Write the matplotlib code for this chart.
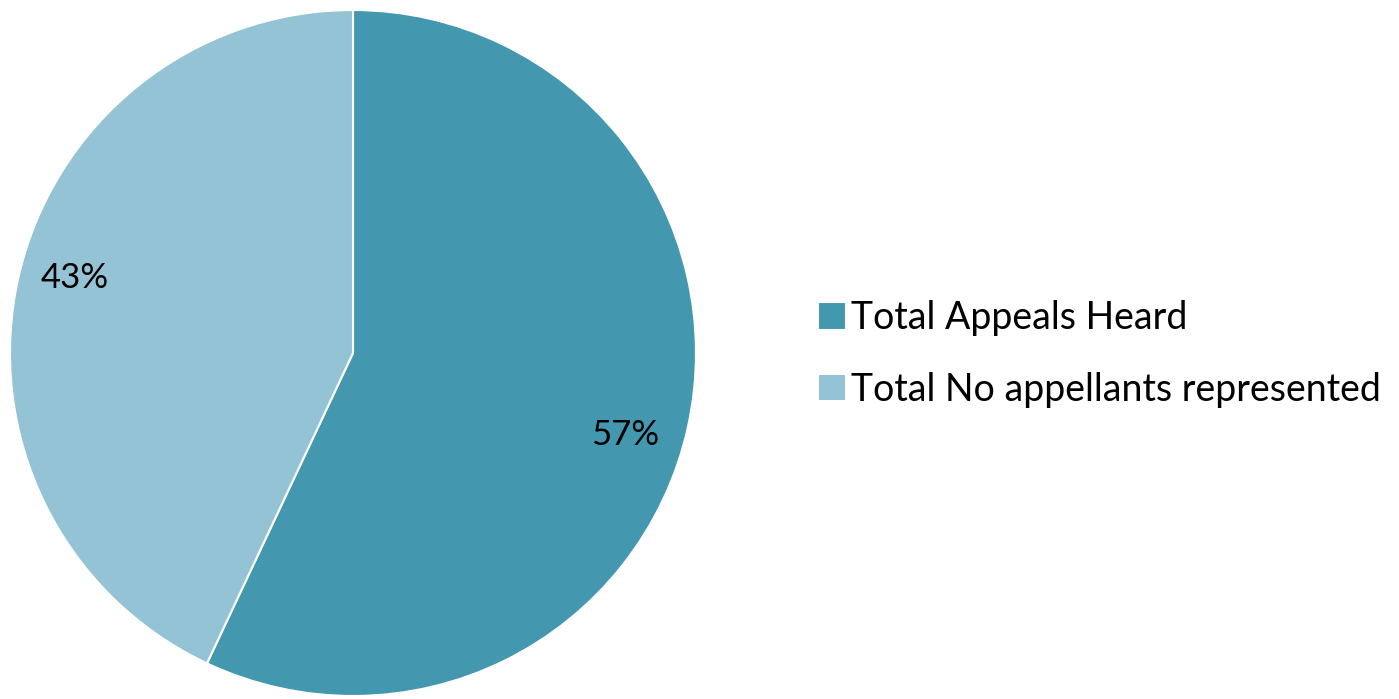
import matplotlib
matplotlib.use("Agg")
import matplotlib.pyplot as plt

labels = ["Total Appeals Heard", "Total No appellants represented"]
values = [57, 43]
colors = ["#4398B0", "#93C3D5"]
# label anchor positions (fraction of radius), as placed in the original
label_pos = [(0.793, -0.239), (-0.810, 0.219)]

plt.rcParams['font.family'] = ['Lato', 'DejaVu Sans']

fig = plt.figure(figsize=(13.99, 6.99), dpi=100)
ax = fig.add_axes([10/1399, 3/699, 686/1399, 686/699])
wedges, texts, autotexts = ax.pie(values, colors=colors, startangle=90, counterclock=False,
                                  autopct='%d%%', pctdistance=0.82, radius=1.0,
                                  wedgeprops=dict(edgecolor='white', linewidth=1.5),
                                  textprops=dict(fontsize=25, color='#000000'))
for at, pos in zip(autotexts, label_pos):
    at.set_position(pos)
ax.set_xlim(-1, 1)
ax.set_ylim(-1, 1)
ax.set_aspect('equal')
ax.axis('off')

leg = fig.legend(wedges, labels, loc='center left', bbox_to_anchor=(818/1399, 1 - 354/699),
                 frameon=False, fontsize=27, handlelength=0.75, handleheight=0.75,
                 handletextpad=0.12, labelspacing=0.95, borderpad=0, borderaxespad=0)
for t in leg.get_texts():
    t.set_color('#000000')

fig.savefig("out.png", dpi=100)
